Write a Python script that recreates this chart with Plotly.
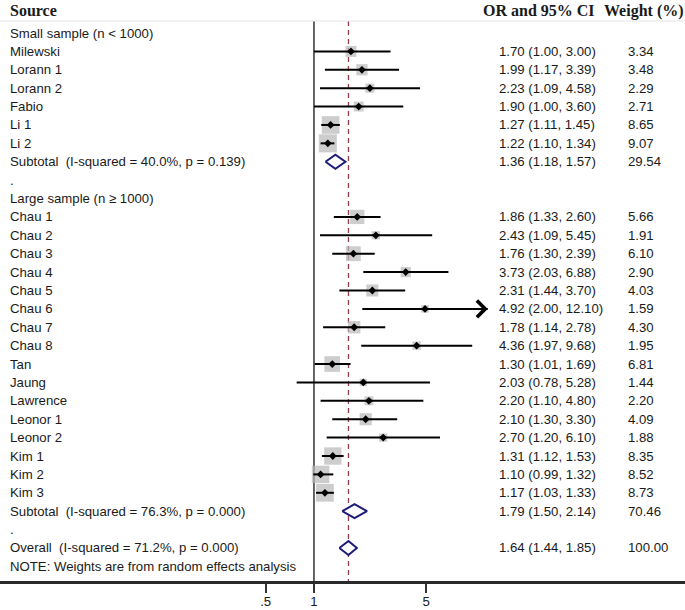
import numpy as np
import plotly.graph_objects as go

# --- data -------------------------------------------------------------
small_names = ["Milewski", "Lorann 1", "Lorann 2", "Fabio", "Li 1", "Li 2"]
small_or = [1.70, 1.99, 2.23, 1.90, 1.27, 1.22]
small_lo = [1.00, 1.17, 1.09, 1.00, 1.11, 1.10]
small_hi = [3.00, 3.39, 4.58, 3.60, 1.45, 1.34]
small_wt = [3.34, 3.48, 2.29, 2.71, 8.65, 9.07]

large_names = ["Chau 1", "Chau 2", "Chau 3", "Chau 4", "Chau 5", "Chau 6", "Chau 7", "Chau 8",
               "Tan", "Jaung", "Lawrence", "Leonor 1", "Leonor 2", "Kim 1", "Kim 2", "Kim 3"]
large_or = [1.86, 2.43, 1.76, 3.73, 2.31, 4.92, 1.78, 4.36, 1.30, 2.03, 2.20, 2.10, 2.70, 1.31, 1.10, 1.17]
large_lo = [1.33, 1.09, 1.30, 2.03, 1.44, 2.00, 1.14, 1.97, 1.01, 0.78, 1.10, 1.30, 1.20, 1.12, 0.99, 1.03]
large_hi = [2.60, 5.45, 2.39, 6.88, 3.70, 12.10, 2.78, 9.68, 1.69, 5.28, 4.80, 3.30, 6.10, 1.53, 1.32, 1.33]
large_wt = [5.66, 1.91, 6.10, 2.90, 4.03, 1.59, 4.30, 1.95, 6.81, 1.44, 2.20, 4.09, 1.88, 8.35, 8.52, 8.73]

group_titles = ["Small sample (n < 1000)", "Large sample (n \u2265 1000)"]
subtotal_labels = ["Subtotal\u00a0 (I-squared = 40.0%, p = 0.139)",
                   "Subtotal\u00a0 (I-squared = 76.3%, p = 0.000)"]
subtotal_or = [1.36, 1.79]
subtotal_lo = [1.18, 1.50]
subtotal_hi = [1.57, 2.14]
subtotal_wt = [29.54, 70.46]

overall_label = "Overall\u00a0 (I-squared = 71.2%, p = 0.000)"
overall_or, overall_lo, overall_hi, overall_wt = 1.64, 1.44, 1.85, 100.00
note_text = "NOTE: Weights are from random effects analysis"

tick_vals = [0.5, 1, 5]
tick_text = [".5", "1", "5"]

# --- styling ----------------------------------------------------------
SANS = "Liberation Sans, Arial, Helvetica, sans-serif"
SERIF = "Liberation Serif, Times New Roman, serif"
TXT = "#1a1a1a"
BOX = "#b8b8b8"
NAVY = "#1c1c78"
RED = "#9b3d4a"
FS = 13.2
TOP = -0.65          # top of reference lines (row units)
Y_BOTTOM = 29.85     # plot bottom in row units
Y_TOP = -1.794

# --- build rows --------------------------------------------------------
row = 0
labels = []          # (row, text)
stats = []           # (row, or, lo, hi, wt)
studies = []         # (row, or, lo, hi, wt)
pooled = []          # (row, or, lo, hi)
groups = [
    (small_names, small_or, small_lo, small_hi, small_wt),
    (large_names, large_or, large_lo, large_hi, large_wt),
]
for g, (names, ors, los, his, wts) in enumerate(groups):
    labels.append((row, group_titles[g]))
    row += 1
    for n, o, l, h, w in zip(names, ors, los, his, wts):
        labels.append((row, n))
        stats.append((row, o, l, h, w))
        studies.append((row, o, l, h, w))
        row += 1
    labels.append((row, subtotal_labels[g]))
    stats.append((row, subtotal_or[g], subtotal_lo[g], subtotal_hi[g], subtotal_wt[g]))
    pooled.append((row, subtotal_or[g], subtotal_lo[g], subtotal_hi[g]))
    row += 1
    labels.append((row, "."))
    row += 1
labels.append((row, overall_label))
stats.append((row, overall_or, overall_lo, overall_hi, overall_wt))
pooled.append((row, overall_or, overall_lo, overall_hi))
row += 1
labels.append((row, note_text))

fig = go.Figure()

# reference lines
fig.add_trace(go.Scatter(x=[1, 1], y=[TOP, Y_BOTTOM], mode="lines",
                         line=dict(color="#333333", width=1.5), hoverinfo="skip"))
fig.add_trace(go.Scatter(x=[overall_or, overall_or], y=[TOP, Y_BOTTOM], mode="lines",
                         line=dict(color=RED, width=1.3, dash="5px,4px"), hoverinfo="skip"))

# weight boxes
fig.add_trace(go.Scatter(
    x=[s[1] for s in studies], y=[s[0] for s in studies], mode="markers",
    marker=dict(symbol="square", color=BOX, size=[6.0 * np.sqrt(s[4]) for s in studies],
                line=dict(width=0)),
    hoverinfo="skip"))

# CI lines
cx, cy = [], []
for r, o, l, h, w in studies:
    cx += [l, h, None]
    cy += [r, r, None]
fig.add_trace(go.Scatter(x=cx, y=cy, mode="lines", line=dict(color="black", width=2),
                         hoverinfo="skip"))

# point estimates
fig.add_trace(go.Scatter(
    x=[s[1] for s in studies], y=[s[0] for s in studies], mode="markers",
    marker=dict(symbol="diamond", color="black", size=6), hoverinfo="skip"))

# pooled diamonds
for r, o, l, h in pooled:
    fig.add_trace(go.Scatter(x=[l, o, h, o, l], y=[r, r - 0.38, r, r + 0.38, r],
                             mode="lines", fill="toself", fillcolor="white",
                             line=dict(color=NAVY, width=2), hoverinfo="skip"))

annotations = []
# arrows for CIs running off the chart
for r, o, l, h, w in studies:
    if h > 10:
        annotations.append(dict(x=np.log10(h), y=r, ax=np.log10(l), ay=r, axref="x", ayref="y",
                                xref="x", yref="y", text="", showarrow=True, arrowhead=4,
                                arrowsize=1.6, arrowwidth=2, arrowcolor="black", standoff=0))

for r, t in labels:
    annotations.append(dict(x=8 / 685, y=r, xref="paper", yref="y", text=t, showarrow=False,
                            xanchor="left", yanchor="middle",
                            font=dict(family=SANS, size=FS, color=TXT)))
for r, o, l, h, w in stats:
    annotations.append(dict(x=497 / 685, y=r, xref="paper", yref="y",
                            text=f"{o:.2f} ({l:.2f}, {h:.2f})", showarrow=False,
                            xanchor="left", yanchor="middle",
                            font=dict(family=SANS, size=FS, color=TXT)))
    annotations.append(dict(x=626 / 685, y=r, xref="paper", yref="y", text=f"{w:.2f}",
                            showarrow=False, xanchor="left", yanchor="middle",
                            font=dict(family=SANS, size=FS, color=TXT)))

# headers
for xp, t in [(8, "Source"), (481, "OR and 95% CI"), (602, "Weight (%)")]:
    annotations.append(dict(x=xp / 685, y=-1.2, xref="paper", yref="y", text=f"<b>{t}</b>",
                            showarrow=False, xanchor="left", yanchor="middle",
                            font=dict(family=SERIF, size=16, color=TXT)))

fig.update_layout(
    width=685, height=610,
    margin=dict(l=0, r=0, t=0, b=28),
    paper_bgcolor="white", plot_bgcolor="white",
    showlegend=False,
    hovermode=False,
    annotations=annotations,
    shapes=[dict(type="line", xref="paper", yref="y", x0=0, x1=1, y0=TOP, y1=TOP,
                 line=dict(color="#e4e4e4", width=1)),
            dict(type="line", xref="paper", yref="paper", x0=0, x1=1, y0=0, y1=0,
                 line=dict(color="#2a2a2a", width=2), layer="above")],
    xaxis=dict(type="log", range=[-1.956, 2.3115], tickvals=tick_vals, ticktext=tick_text,
               showgrid=False, zeroline=False, showline=True, linecolor="#2a2a2a", linewidth=2,
               ticks="outside", ticklen=9, tickwidth=1.5, tickcolor="#333333",
               ticklabelstandoff=-3,
               tickfont=dict(family=SANS, size=FS, color=TXT), automargin=False),
    yaxis=dict(range=[Y_BOTTOM, Y_TOP], visible=False, showgrid=False, zeroline=False,
               automargin=False),
)

# page body has a default 8px margin; remove it so the figure sits at the window origin
fig.write_html("out.html", config={"displayModeBar": False},
               post_script="document.body.style.margin='0';document.body.style.overflow='hidden';")
